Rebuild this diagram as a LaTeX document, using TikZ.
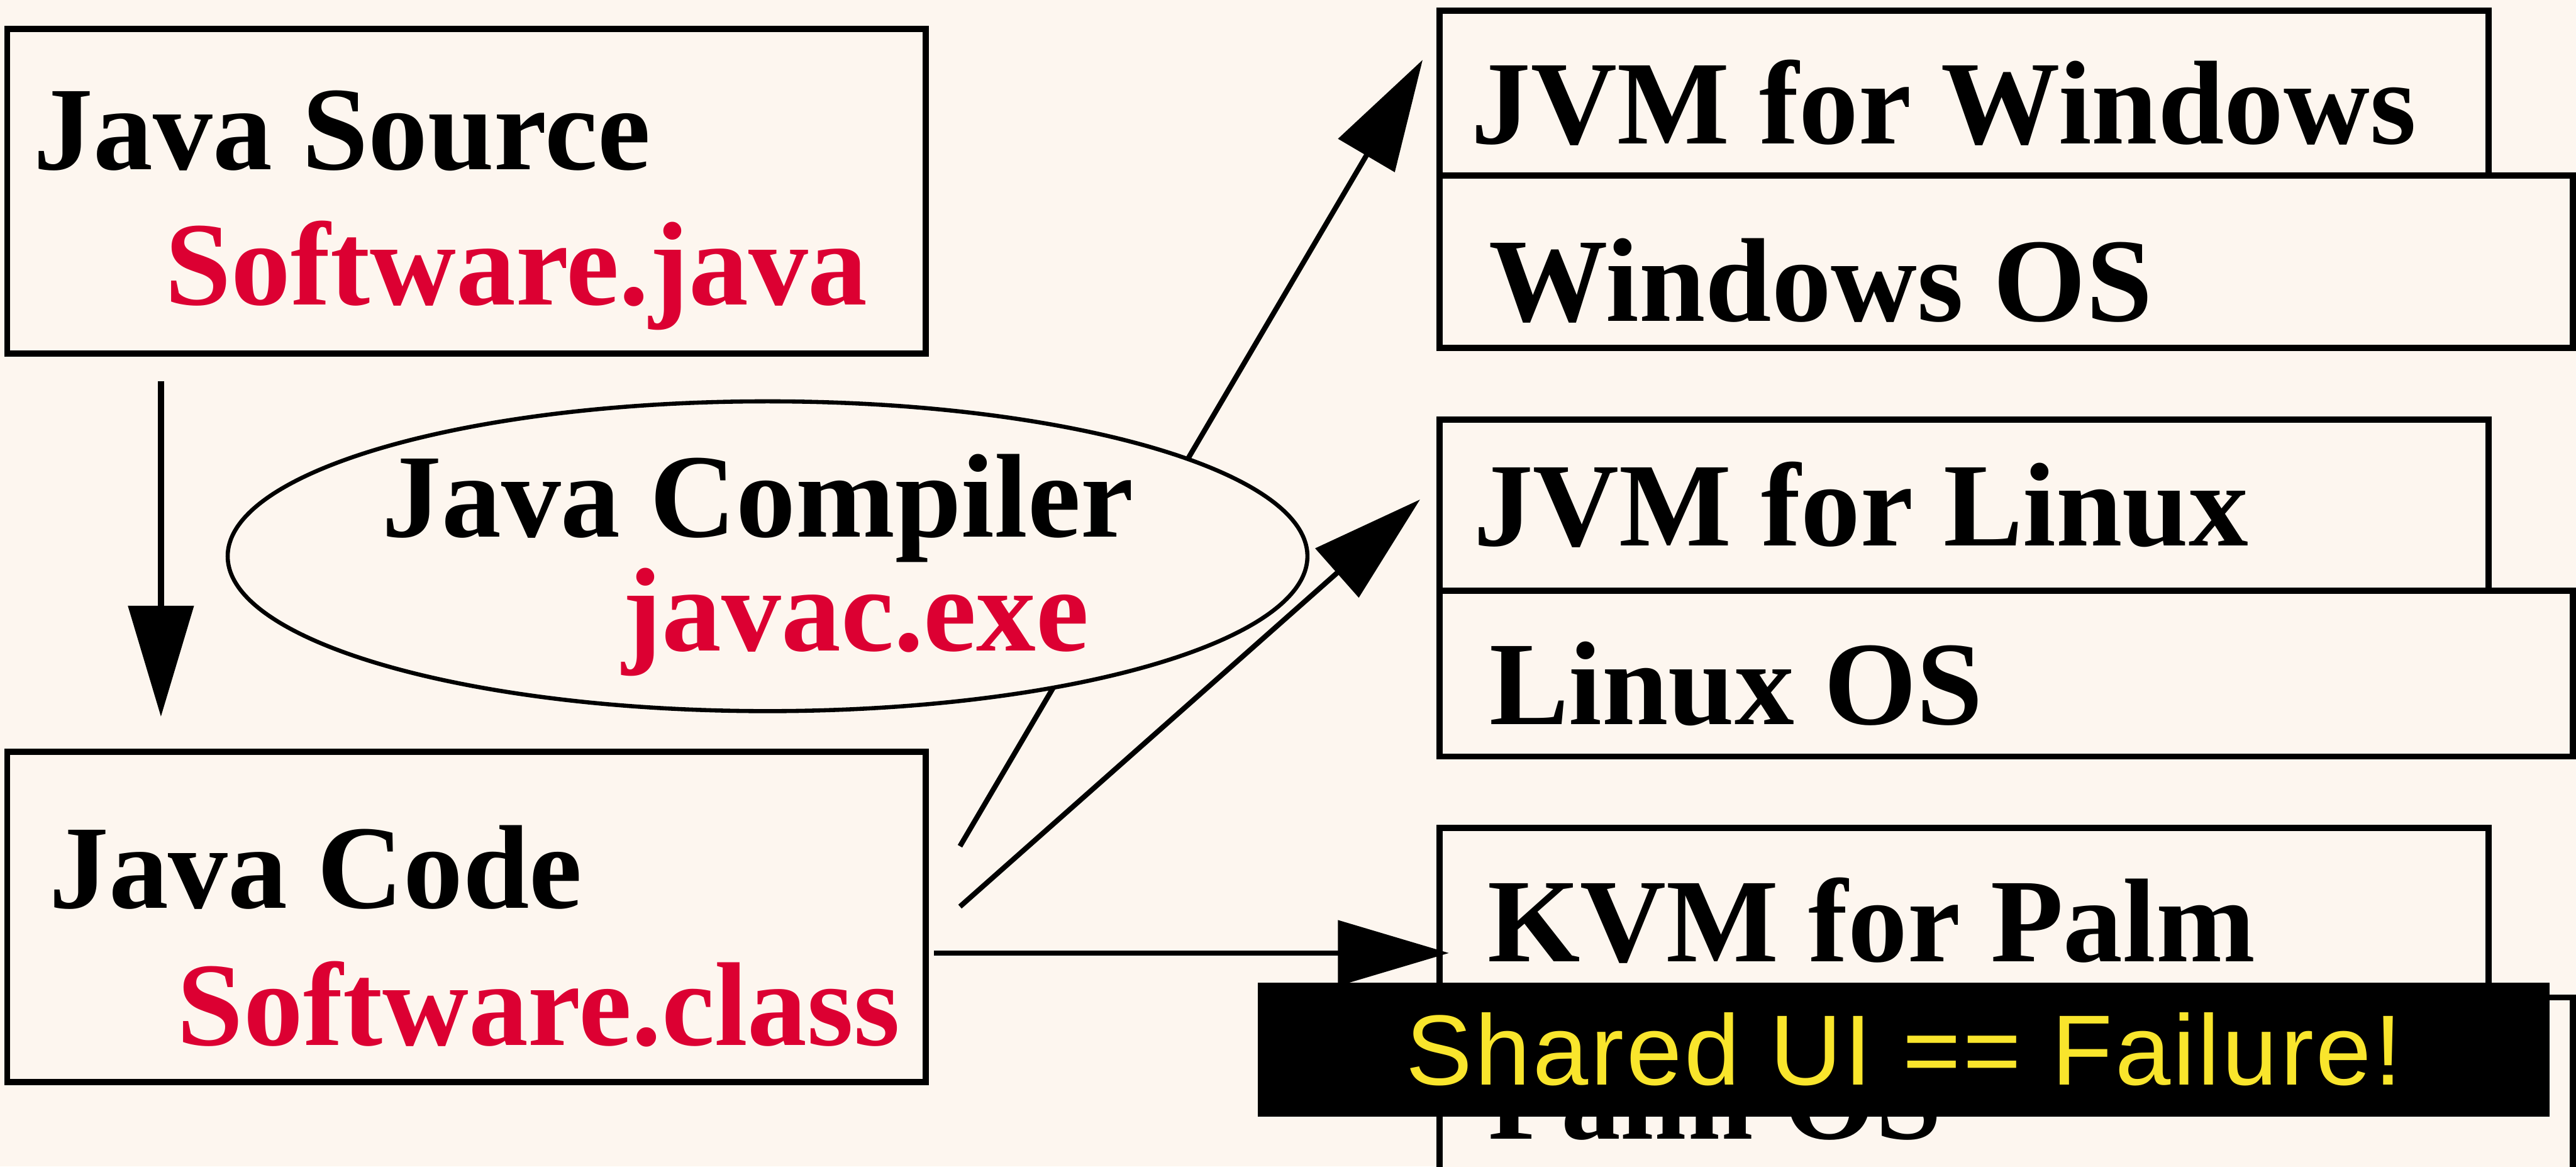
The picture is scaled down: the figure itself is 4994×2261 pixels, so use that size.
\documentclass[tikz,border=0pt]{standalone}
\usepackage{fontspec}
\setmainfont{Liberation Serif}
\newfontfamily\bannerfont[LetterSpace=2.5]{Liberation Sans}
\usetikzlibrary{arrows.meta,shapes.geometric}
\definecolor{paper}{RGB}{253,246,239}
\definecolor{classred}{RGB}{220,0,50}
\definecolor{banneryellow}{RGB}{249,229,44}
\tikzset{
  box/.style={draw, rectangle, line width=0.12cm, fill=paper, anchor=north west, inner sep=0pt, outer sep=0pt},
  lbl/.style={anchor=base west, inner sep=0pt, font=\bfseries\fontsize{65.7pt}{79pt}\selectfont},
  flow/.style={->, line width=0.1cm}
}

\begin{document}
\begin{tikzpicture}[x=0.01cm, y=-0.01cm, >={Triangle[length=2.15cm, width=1.25cm]}]
      % paper
      \fill [paper] (0,0) rectangle (4994,2261);
      \useasboundingbox (0,0) rectangle (4994,2261);
      \clip (0,0) rectangle (4994,2261);
      % source file and compiled code
      \node [box, minimum width=17.8cm, minimum height=6.29cm] (src) at (14,56) {};
      \node [box, minimum width=17.8cm, minimum height=6.4cm] (code) at (14,1457) {};
      % platform stacks: os below, vm above
      \node [box, minimum width=21.96cm, minimum height=3.34cm] (oswin) at (2791,340) {};
      \node [box, minimum width=20.32cm, minimum height=3.19cm] (jvmwin) at (2791,21) {};
      \node [box, minimum width=21.96cm, minimum height=3.21cm] (oslin) at (2791,1145) {};
      \node [box, minimum width=20.32cm, minimum height=3.32cm] (jvmlin) at (2791,813) {};
      \node [box, minimum width=21.96cm, minimum height=3.6cm] (ospalm) at (2791,1933) {};
      \node [box, minimum width=20.32cm, minimum height=3.29cm] (kvm) at (2791,1604) {};
      % compile step
      \draw [->, line width=0.12cm] ([shift={(298,53)}]src.south west) -- ([shift={(298,-68)}]code.north west);
      % byte code goes to every platform
      \coordinate (c1) at ([shift={(66,183)}]code.north east);
      \coordinate (c2) at ([shift={(66,300)}]code.north east);
      \coordinate (c3) at ([shift={(16,390)}]code.north east);
      \draw [flow] (c1) -- ([shift={(-33,95)}]jvmwin.north west);
      \draw [flow] (c2) -- ([shift={(-38,155)}]jvmlin.north west);
      \draw [flow] (c3) -- ([shift={(18,243)}]kvm.north west);
      % compiler, drawn over the first arrow
      \node [draw, ellipse, line width=0.08cm, fill=paper, minimum width=20.92cm, minimum height=6cm, inner sep=0pt] (comp) at (1488,1078) {};
      % labels
      \node [lbl] (srcname) at (65,328) {Java Source};
      \node [lbl, classred] (srcfile) at (319,591) {Software.java};
      \node [lbl] (compname) at (740,1041) {Java Compiler};
      \node [lbl, classred] (compfile) at (1206,1261) {javac.exe};
      \node [lbl] (codename) at (95,1760) {Java Code};
      \node [lbl, classred] (codefile) at (343,2026) {Software.class};
      \node [lbl] (jvmwinname) at (2852,279) {JVM for Windows};
      \node [lbl] (oswinname) at (2886,623) {Windows OS};
      \node [lbl] (jvmlinname) at (2856,1058) {JVM for Linux};
      \node [lbl] (oslinname) at (2887,1404) {Linux OS};
      \node [lbl] (kvmname) at (2883,1863) {KVM for Palm};
      \node [lbl] (ospalmname) at (2885,2208) {Palm OS};
      % caption banner
      \node [fill=black, minimum width=25.03cm, minimum height=2.6cm, inner sep=0pt, text=banneryellow, font=\bannerfont\fontsize{55pt}{66pt}\selectfont] (banner) at (3691,2034) {Shared UI == Failure!};
\end{tikzpicture}
\end{document}
